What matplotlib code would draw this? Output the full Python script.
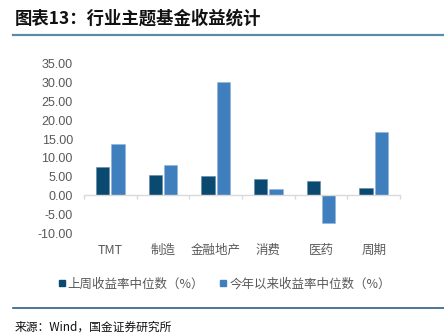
import matplotlib
matplotlib.use("Agg")
import matplotlib.pyplot as plt
from matplotlib.lines import Line2D

categories = ["TMT", "制造", "金融地产", "消费", "医药", "周期"]
last_week = [7.7, 5.5, 5.3, 4.5, 3.8, 2.1]
ytd = [13.8, 8.1, 30.3, 1.8, -7.3, 16.9]
series_names = ["上周收益率中位数（%）", "今年以来收益率中位数（%）"]
yticks = [35, 30, 25, 20, 15, 10, 5, 0, -5, -10]

plt.rcParams['font.family'] = ['Liberation Sans', 'Noto Sans CJK SC', 'DejaVu Sans']

W, H = 444, 334
fig = plt.figure(figsize=(W / 100, H / 100), dpi=100)

def fx(px):
    return px / W

def fy(py):
    return 1 - py / H

ax = fig.add_axes([fx(84), fy(233), fx(400) - fx(84), fy(64) - fy(233)])

dark = "#0a4a70"
light = "#3f7fbe"
x = list(range(len(categories)))
bw = 0.25
off = 0.145
ax.bar([i - off for i in x], last_week, width=bw, color=dark, edgecolor="#5f8aa8", linewidth=0.4)
ax.bar([i + off for i in x], ytd, width=bw, color=light, edgecolor="#8fb3d9", linewidth=0.4)

ax.set_xlim(-0.5, len(categories) - 0.5)
ax.set_ylim(-10, 35)
ax.set_yticks(yticks)
ax.set_yticklabels([f"{v:.2f}" for v in yticks], fontsize=9, color="#595959")
ax.tick_params(axis='y', length=0, pad=8)

for s in ["top", "right", "left"]:
    ax.spines[s].set_visible(False)
ax.spines["bottom"].set_position(("data", 0))
ax.spines["bottom"].set_color("#d9d9d9")
ax.spines["bottom"].set_linewidth(1.0)

ax.set_xticks(x)
ax.set_xticklabels(categories, fontsize=9, color="#595959",
                   family=['Noto Sans CJK SC', 'DejaVu Sans'])
ax.tick_params(axis='x', which='major', length=0, pad=35)
ax.set_xticks([i - 0.5 for i in range(len(categories) + 1)], minor=True)
ax.tick_params(axis='x', which='minor', length=3, color="#d9d9d9", width=1.0)

handles = [Line2D([], [], marker='s', linestyle='', color=dark, markersize=5),
           Line2D([], [], marker='s', linestyle='', color=light, markersize=5)]
fig.legend(handles, series_names, loc='center', bbox_to_anchor=(fx(223), fy(284)),
           ncol=2, frameon=False, handletextpad=0.0, columnspacing=1.0,
           handlelength=1.0, prop={'family': ['Noto Sans CJK SC', 'DejaVu Sans'], 'size': 9},
           labelcolor="#595959")

# title and decorative lines
fig.text(fx(15), fy(19), "图表13：行业主题基金收益统计", fontsize=12.5, fontweight='bold',
         ha='left', va='center', family=['Noto Sans CJK SC', 'DejaVu Sans'], color="#111111",
         fontstyle='italic')
fig.add_artist(Line2D([fx(13), 1], [fy(35), fy(35)], color="#5b8aa6", linewidth=1.6))
fig.add_artist(Line2D([fx(13), 1], [fy(308), fy(308)], color="#2e5f84", linewidth=1.2))
fig.text(fx(15), fy(333.5), "来源：Wind，国金证券研究所", fontsize=8.5, ha='left', va='bottom',
         family=['Noto Sans CJK SC', 'DejaVu Sans'], color="#111111")

fig.savefig("out.png", dpi=100)
